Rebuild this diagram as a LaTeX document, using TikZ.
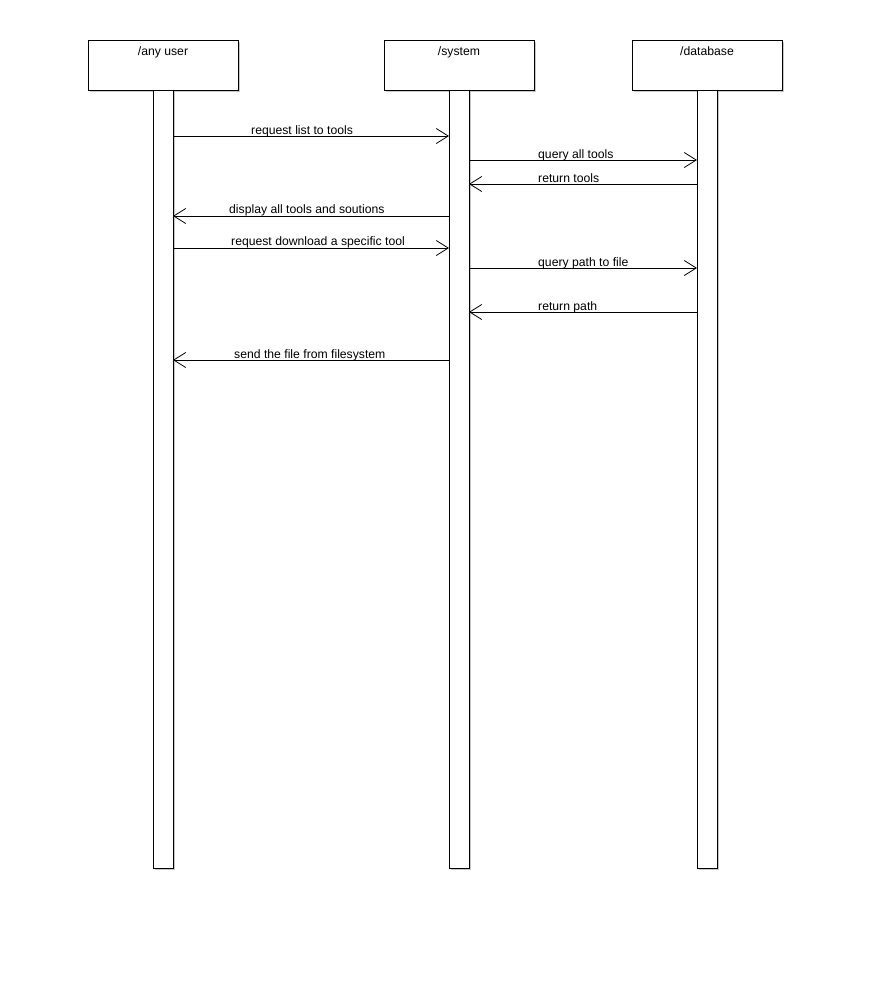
\documentclass[tikz,border=0pt]{standalone}
\usepackage{fontspec}
\setmainfont{Liberation Sans}
\usetikzlibrary{arrows.meta}
\begin{document}
\begin{tikzpicture}[x=1pt,y=-1pt,
  obj/.style={draw=black,line width=1pt,fill=white,minimum width=150pt,minimum height=50pt,anchor=north west,inner sep=0pt},
  life/.style={draw=black,line width=1pt,fill=white,minimum width=20pt,minimum height=778pt,anchor=north west,inner sep=0pt},
  msg/.style={line width=0.8pt,-{Straight Barb[length=12pt,width=15pt,line width=0.8pt]}},
  lbl/.style={font=\fontsize{12.2}{14}\selectfont,inner sep=0pt,anchor=base west},
  ttl/.style={font=\fontsize{12.2}{14}\selectfont,inner sep=0pt,anchor=base}]
\useasboundingbox[fill=white] (0,0) rectangle (870,1005);
% shadows
\foreach \x/\w/\y/\h in {88/150/40/50,384/150/40/50,632/150/40/50,153/20/90/778,449/20/90/778,697/20/90/778}{
  \fill[black!22] (\x+2,\y+2) rectangle (\x+\w+2,\y+\h+2);
}
% lifelines
\node[life] (lu) at (153,90) {};
\node[life] (ls) at (449,90) {};
\node[life] (ld) at (697,90) {};
% objects
\node[obj] (u) at (88,40) {};
\node[obj] (s) at (384,40) {};
\node[obj] (d) at (632,40) {};
\node[ttl] (tu) at (163,55) {/any user};
\node[ttl] (ts) at (459,55) {/system};
\node[ttl] (td) at (707,55) {/database};
% coordinates on lifelines
\coordinate (u1) at (173,136); \coordinate (s1) at (449,136);
\coordinate (s2) at (469,160); \coordinate (d2) at (697,160);
\coordinate (d3) at (697,184); \coordinate (s3) at (469,184);
\coordinate (s4) at (449,216); \coordinate (u4) at (173,216);
\coordinate (u5) at (173,248); \coordinate (s5) at (449,248);
\coordinate (s6) at (469,268); \coordinate (d6) at (697,268);
\coordinate (d7) at (697,312); \coordinate (s7) at (469,312);
\coordinate (s8) at (449,360); \coordinate (u8) at (173,360);
\draw[msg] (u1) -- (s1);
\draw[msg] (s2) -- (d2);
\draw[msg] (d3) -- (s3);
\draw[msg] (s4) -- (u4);
\draw[msg] (u5) -- (s5);
\draw[msg] (s6) -- (d6);
\draw[msg] (d7) -- (s7);
\draw[msg] (s8) -- (u8);
% labels
\node[lbl] (m1) at (251,134) {request list to tools};
\node[lbl] (m2) at (538,158) {query all tools};
\node[lbl] (m3) at (538,182) {return tools};
\node[lbl] (m4) at (229,213) {display all tools and soutions};
\node[lbl] (m5) at (231,245) {request download a specific tool};
\node[lbl] (m6) at (538,266) {query path to file};
\node[lbl] (m7) at (538,310) {return path};
\node[lbl] (m8) at (234,358) {send the file from filesystem};
\end{tikzpicture}
\end{document}
